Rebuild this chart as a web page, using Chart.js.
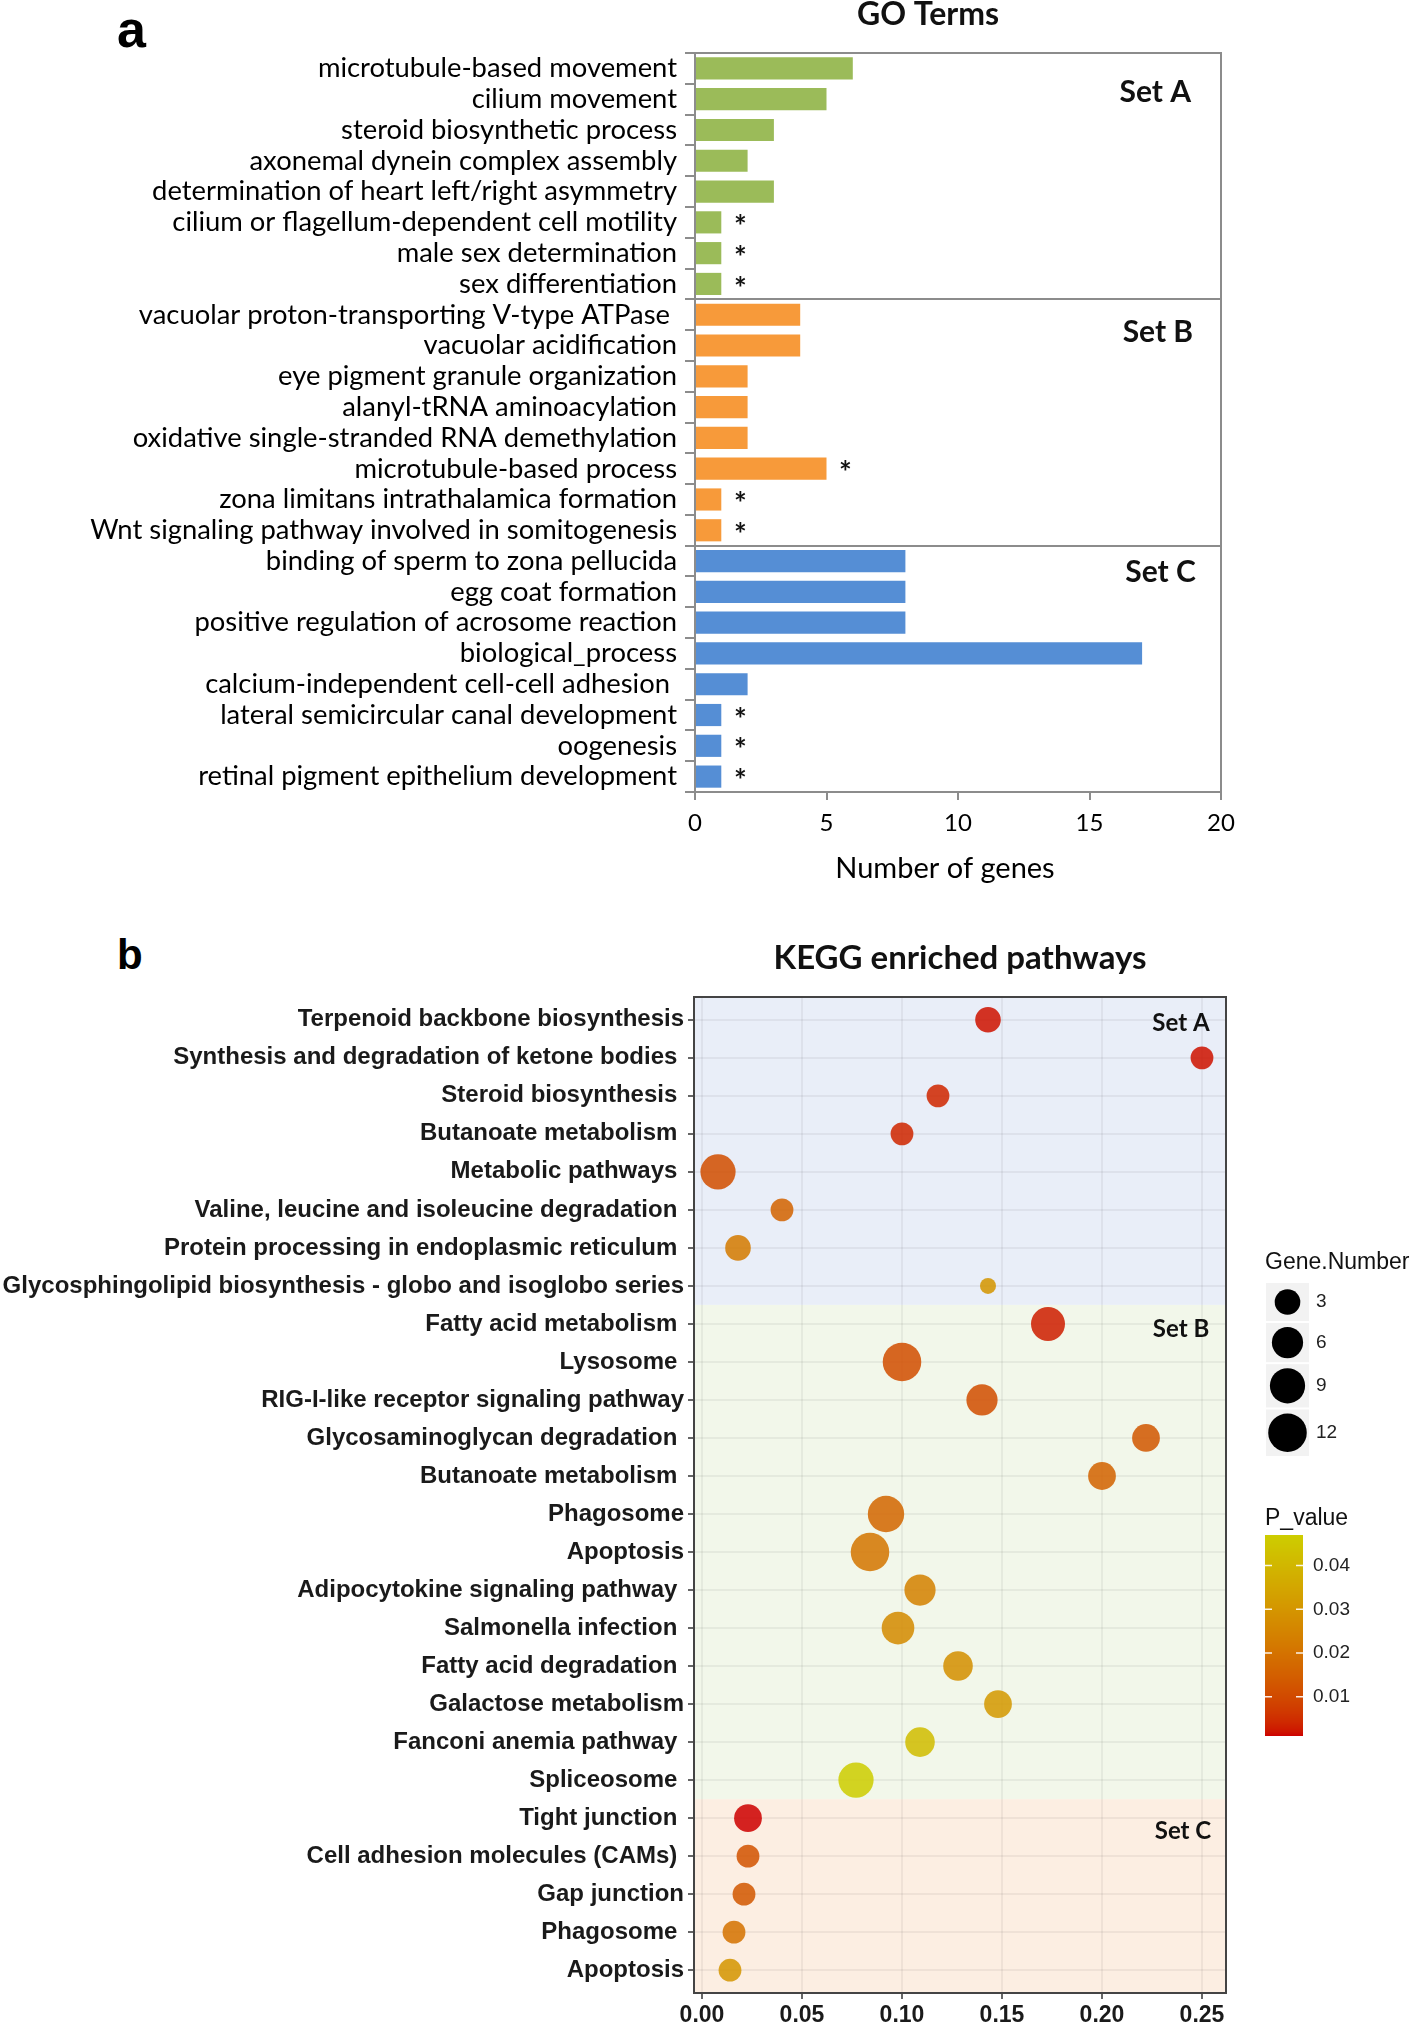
<!DOCTYPE html>
<html>
<head>
<meta charset="utf-8">
<script src="https://cdn.jsdelivr.net/npm/chart.js@4.4.0/dist/chart.umd.min.js"></script>
<style>
  html, body { margin: 0; padding: 0; background: #fff; }
  body { width: 1418px; height: 2027px; position: relative; overflow: hidden; }
  .panel { position: absolute; font-family: 'Liberation Sans', Arial, sans-serif; font-weight: bold; line-height: 1; color: #000; }
  #wrapA { position: absolute; left: 0; top: 0; width: 1418px; height: 900px; }
  #wrapB { position: absolute; left: 0; top: 900px; width: 1418px; height: 1127px; }
</style>
</head>
<body>
<div class="panel" style="left:117px; top:3px; font-size:52px;">a</div>
<div class="panel" style="left:117px; top:934px; font-size:42px;">b</div>
<div id="wrapA"><canvas id="goChart"></canvas></div>
<div id="wrapB"><canvas id="keggChart"></canvas></div>
<script>
// ---------- panel a: GO terms ----------
const goTerms = [
    'microtubule-based movement', 'cilium movement', 'steroid biosynthetic process',
    'axonemal dynein complex assembly', 'determination of heart left/right asymmetry',
    'cilium or flagellum-dependent cell motility', 'male sex determination', 'sex differentiation',
    'vacuolar proton-transporting V-type ATPase ', 'vacuolar acidification', 'eye pigment granule organization',
    'alanyl-tRNA aminoacylation', 'oxidative single-stranded RNA demethylation', 'microtubule-based process',
    'zona limitans intrathalamica formation', 'Wnt signaling pathway involved in somitogenesis',
    'binding of sperm to zona pellucida', 'egg coat formation', 'positive regulation of acrosome reaction',
    'biological_process', 'calcium-independent cell-cell adhesion ', 'lateral semicircular canal development',
    'oogenesis', 'retinal pigment epithelium development'
];
const goCounts = [6, 5, 3, 2, 3, 1, 1, 1,   4, 4, 2, 2, 2, 5, 1, 1,   8, 8, 8, 17, 2, 1, 1, 1];
const goSets   = ['A','A','A','A','A','A','A','A', 'B','B','B','B','B','B','B','B', 'C','C','C','C','C','C','C','C'];
const goStar   = [0, 0, 0, 0, 0, 1, 1, 1,   0, 0, 0, 0, 0, 1, 1, 1,   0, 0, 0, 0, 0, 1, 1, 1];
const goTicks  = [0, 5, 10, 15, 20];

// ---------- panel b: KEGG pathways ----------
const keggPathways = [
    'Terpenoid backbone biosynthesis', 'Synthesis and degradation of ketone bodies ', 'Steroid biosynthesis ',
    'Butanoate metabolism ', 'Metabolic pathways ', 'Valine, leucine and isoleucine degradation ',
    'Protein processing in endoplasmic reticulum ', 'Glycosphingolipid biosynthesis - globo and isoglobo series',
    'Fatty acid metabolism ', 'Lysosome ', 'RIG-I-like receptor signaling pathway', 'Glycosaminoglycan degradation ',
    'Butanoate metabolism ', 'Phagosome', 'Apoptosis', 'Adipocytokine signaling pathway ', 'Salmonella infection ',
    'Fatty acid degradation ', 'Galactose metabolism', 'Fanconi anemia pathway ', 'Spliceosome ',
    'Tight junction ', 'Cell adhesion molecules (CAMs) ', 'Gap junction', 'Phagosome ', 'Apoptosis'
];
const keggRatio = [0.143, 0.250, 0.118, 0.100, 0.008, 0.040, 0.018, 0.143,
                   0.173, 0.100, 0.140, 0.222, 0.200, 0.092, 0.084, 0.109, 0.098, 0.128, 0.148, 0.109, 0.077,
                   0.023, 0.023, 0.021, 0.016, 0.014];
const keggGenes = [3, 2, 2, 2, 9, 2, 3, 1,
                   8, 12, 6, 4, 4, 10, 12, 6, 7, 5, 4, 5, 9,
                   4, 2, 2, 2, 2];
const keggP = [0.002, 0.002, 0.004, 0.004, 0.011, 0.016, 0.022, 0.030,
               0.003, 0.011, 0.011, 0.013, 0.016, 0.017, 0.021, 0.024, 0.027, 0.028, 0.031, 0.042, 0.047,
               0.001, 0.012, 0.013, 0.020, 0.030];
const keggSets = ['A','A','A','A','A','A','A','A',
                  'B','B','B','B','B','B','B','B','B','B','B','B','B',
                  'C','C','C','C','C'];
const keggTicks = [0, 0.05, 0.10, 0.15, 0.20, 0.25];
const sizeBreaks = [3, 6, 9, 12];
const pBreaks = [0.04, 0.03, 0.02, 0.01];

const setColors = { A: '#9BBB59', B: '#F79A3A', C: '#558ED5' };
const setBg = { A: '#E9EEF8', B: '#F2F7EA', C: '#FCEEE2' };

// colour scale red3 -> yellow3, interpolated in Lab like ggplot
function lin(c) { c /= 255; return c <= 0.04045 ? c / 12.92 : Math.pow((c + 0.055) / 1.055, 2.4); }
function unlin(c) { const v = c <= 0.0031308 ? 12.92 * c : 1.055 * Math.pow(c, 1 / 2.4) - 0.055; return Math.round(Math.max(0, Math.min(1, v)) * 255); }
function toLab(rgb) {
    const r = lin(rgb[0]), g = lin(rgb[1]), b = lin(rgb[2]);
    const X = (0.4124 * r + 0.3576 * g + 0.1805 * b) / 0.95047;
    const Y = 0.2126 * r + 0.7152 * g + 0.0722 * b;
    const Z = (0.0193 * r + 0.1192 * g + 0.9505 * b) / 1.08883;
    const f = t => t > 0.008856 ? Math.cbrt(t) : 7.787 * t + 16 / 116;
    return [116 * f(Y) - 16, 500 * (f(X) - f(Y)), 200 * (f(Y) - f(Z))];
}
function fromLab(lab) {
    const fy = (lab[0] + 16) / 116, fx = fy + lab[1] / 500, fz = fy - lab[2] / 200;
    const fi = t => t * t * t > 0.008856 ? t * t * t : (t - 16 / 116) / 7.787;
    const X = fi(fx) * 0.95047, Y = fi(fy), Z = fi(fz) * 1.08883;
    return [unlin(3.2406 * X - 1.5372 * Y - 0.4986 * Z),
            unlin(-0.9689 * X + 1.8758 * Y + 0.0415 * Z),
            unlin(0.0557 * X - 0.2040 * Y + 1.0570 * Z)];
}
const labLow = toLab([205, 0, 0]), labHigh = toLab([205, 205, 0]);
const pMin = Math.min(...keggP), pMax = Math.max(...keggP);
function pColor(p, alpha) {
    const t = (p - pMin) / (pMax - pMin);
    const c = fromLab(labLow.map((v, i) => v + (labHigh[i] - v) * t));
    return 'rgba(' + c[0] + ',' + c[1] + ',' + c[2] + ',' + alpha + ')';
}
function bubbleRadius(n) {
    return (16 + 6.8 * Math.sqrt(n - 1)) / 2;
}

function drawText(ctx, text, x, y, font, align, color) {
    ctx.font = font;
    ctx.textAlign = align || 'center';
    ctx.textBaseline = 'middle';
    ctx.fillStyle = color || '#111';
    ctx.fillText(text, x, y);
}

// ---------- chart a ----------
const goDecor = {
    id: 'goDecor',
    afterDatasetsDraw(chart) {
        const { ctx, chartArea: ca, scales: { x, y } } = chart;
        ctx.save();
        chart.getDatasetMeta(0).data.forEach((bar, i) => {
            if (goStar[i]) drawText(ctx, '*', bar.x + 19, bar.y + 5, 'bold 30px Lato', 'center', '#111');
        });
        ctx.strokeStyle = '#8c8c8c';
        ctx.lineWidth = 2;
        for (let i = 1; i < goSets.length; i++) {
            if (goSets[i] !== goSets[i - 1]) {
                const yy = Math.round((y.getPixelForValue(i - 1) + y.getPixelForValue(i)) / 2);
                ctx.beginPath(); ctx.moveTo(ca.left, yy); ctx.lineTo(ca.right, yy); ctx.stroke();
            }
        }
        ctx.beginPath();
        ctx.moveTo(ca.left, ca.top); ctx.lineTo(ca.right, ca.top); ctx.lineTo(ca.right, ca.bottom);
        ctx.stroke();
        drawText(ctx, 'Set A', x.getPixelForValue(17.5), y.getPixelForValue(0.77), 'bold 30px Lato', 'center', '#111');
        drawText(ctx, 'Set B', x.getPixelForValue(17.6), y.getPixelForValue(8.56), 'bold 30px Lato', 'center', '#111');
        drawText(ctx, 'Set C', x.getPixelForValue(17.7), y.getPixelForValue(16.35), 'bold 30px Lato', 'center', '#111');
        drawText(ctx, 'GO Terms', 928, 15, 'bold 32px Lato', 'center', '#111');
        drawText(ctx, 'Number of genes', 945, 869, '29px Lato', 'center', '#000');
        ctx.restore();
    }
};

new Chart(document.getElementById('goChart'), {
    type: 'bar',
    data: {
        labels: goTerms,
        datasets: [{
            data: goCounts,
            backgroundColor: goSets.map(s => setColors[s]),
            borderWidth: 0,
            barPercentage: 0.72,
            categoryPercentage: 1.0
        }]
    },
    options: {
        indexAxis: 'y',
        responsive: true,
        maintainAspectRatio: false,
        animation: false,
        devicePixelRatio: 1,
        layout: { padding: { top: 53, right: 197, left: 0, bottom: 0 } },
        plugins: { legend: { display: false }, tooltip: { enabled: false } },
        scales: {
            x: {
                min: 0, max: 20,
                afterBuildTicks(s) { s.ticks = goTicks.map(v => ({ value: v })); },
                ticks: { font: { family: 'Lato', size: 24 }, color: '#000', padding: 9 },
                grid: { drawOnChartArea: false, tickLength: 8, color: '#8c8c8c', lineWidth: 2 },
                border: { color: '#8c8c8c', width: 2 },
                afterFit(s) { s.height = 108; }
            },
            y: {
                ticks: { font: { family: 'Lato', size: 27.4 }, color: '#000', padding: 8, autoSkip: false },
                grid: { drawOnChartArea: false, tickLength: 10, color: '#8c8c8c', lineWidth: 2 },
                border: { color: '#8c8c8c', width: 2 },
                afterFit(s) { s.width = 695; }
            }
        }
    },
    plugins: [goDecor]
});

// ---------- chart b ----------
const keggBack = {
    id: 'keggBack',
    beforeDraw(chart) {
        const { ctx, chartArea: ca, scales: { y } } = chart;
        ctx.save();
        let start = 0;
        for (let i = 1; i <= keggSets.length; i++) {
            if (i === keggSets.length || keggSets[i] !== keggSets[start]) {
                const top = start === 0 ? ca.top : y.getPixelForValue(start - 0.5);
                const bottom = i === keggSets.length ? ca.bottom : y.getPixelForValue(i - 0.5);
                ctx.fillStyle = setBg[keggSets[start]];
                ctx.fillRect(ca.left, top, ca.right - ca.left, bottom - top);
                start = i;
            }
        }
        ctx.restore();
    },
    afterDatasetsDraw(chart) {
        const { ctx, chartArea: ca, scales: { x, y } } = chart;
        ctx.save();
        ctx.strokeStyle = '#444';
        ctx.lineWidth = 2;
        ctx.strokeRect(ca.left, ca.top, ca.right - ca.left, ca.bottom - ca.top);
        drawText(ctx, 'Set A', x.getPixelForValue(0.2395), y.getPixelForValue(0.1), 'bold 24px Lato', 'center', '#111');
        drawText(ctx, 'Set B', x.getPixelForValue(0.2395), y.getPixelForValue(8.15), 'bold 24px Lato', 'center', '#111');
        drawText(ctx, 'Set C', x.getPixelForValue(0.2405), y.getPixelForValue(21.35), 'bold 24px Lato', 'center', '#111');
        drawText(ctx, 'KEGG enriched pathways', 960, 58, 'bold 33px Lato', 'center', '#111');

        // size legend
        const lx = 1266, keyW = 43;
        drawText(ctx, 'Gene.Number', 1265, 363, '23px "Liberation Sans"', 'left', '#111');
        let ky = 383;
        sizeBreaks.forEach(n => {
            const r = bubbleRadius(n);
            const h = Math.max(38, 2 * r + 8);
            ctx.fillStyle = '#F2F2F2';
            ctx.fillRect(lx, ky, keyW, h);
            ctx.fillStyle = '#000';
            ctx.beginPath(); ctx.arc(lx + keyW / 2, ky + h / 2, r, 0, Math.PI * 2); ctx.fill();
            drawText(ctx, String(n), 1316, ky + h / 2, '19px "Liberation Sans"', 'left', '#222');
            ky += h + 2;
        });

        // colour bar
        const bx = 1265, bw = 38, bt = 635, bb = 836;
        drawText(ctx, 'P_value', 1265, 619, '23px "Liberation Sans"', 'left', '#111');
        for (let yy = bt; yy < bb; yy++) {
            const p = pMax - (yy + 0.5 - bt) / (bb - bt) * (pMax - pMin);
            ctx.fillStyle = pColor(p, 1);
            ctx.fillRect(bx, yy, bw, 1);
        }
        ctx.strokeStyle = 'rgba(255,255,255,0.9)';
        ctx.lineWidth = 1.5;
        pBreaks.forEach(p => {
            const yy = bt + (pMax - p) / (pMax - pMin) * (bb - bt);
            ctx.beginPath();
            ctx.moveTo(bx, yy); ctx.lineTo(bx + 7, yy);
            ctx.moveTo(bx + bw - 7, yy); ctx.lineTo(bx + bw, yy);
            ctx.stroke();
            drawText(ctx, p.toFixed(2), 1313, yy, '19px "Liberation Sans"', 'left', '#222');
        });
        ctx.restore();
    }
};

new Chart(document.getElementById('keggChart'), {
    type: 'bubble',
    data: {
        datasets: [{
            data: keggPathways.map((_, i) => ({ x: keggRatio[i], y: i, r: bubbleRadius(keggGenes[i]) })),
            backgroundColor: keggP.map(p => pColor(p, 0.86)),
            borderWidth: 0
        }]
    },
    options: {
        responsive: true,
        maintainAspectRatio: false,
        animation: false,
        devicePixelRatio: 1,
        layout: { padding: { top: 97, right: 192, left: 0, bottom: 0 } },
        plugins: { legend: { display: false }, tooltip: { enabled: false } },
        scales: {
            x: {
                type: 'linear', min: -0.004, max: 0.262,
                afterBuildTicks(s) { s.ticks = keggTicks.map(v => ({ value: v })); },
                ticks: {
                    callback: v => v.toFixed(2),
                    font: { family: 'Liberation Sans', size: 23, weight: 'bold' },
                    color: '#1a1a1a', padding: 3, maxRotation: 0
                },
                grid: { color: 'rgba(0,0,0,0.05)', lineWidth: 2, tickLength: 6, tickColor: '#333', tickWidth: 1.5 },
                border: { display: false },
                afterFit(s) { s.height = 34; }
            },
            y: {
                type: 'linear', reverse: true, min: -0.6, max: 25.6,
                afterBuildTicks(s) { s.ticks = keggPathways.map((_, i) => ({ value: i })); },
                ticks: {
                    callback: v => keggPathways[v],
                    autoSkip: false,
                    font: { family: 'Liberation Sans', size: 24, weight: 'bold' },
                    color: '#1a1a1a', padding: 4
                },
                grid: { color: 'rgba(0,0,0,0.05)', lineWidth: 2, tickLength: 6, tickColor: '#333', tickWidth: 1.5 },
                border: { display: false },
                afterFit(s) { s.width = 694; }
            }
        }
    },
    plugins: [keggBack]
});
</script>
</body>
</html>
